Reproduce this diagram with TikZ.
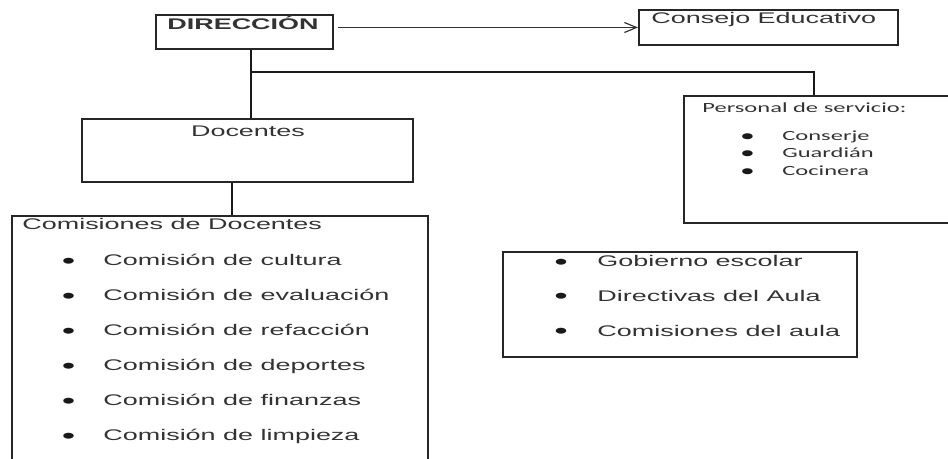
\documentclass[tikz,border=0pt]{standalone}
\usepackage{fontspec}
\setmainfont{Liberation Sans}[FakeStretch=1.75]
\newfontfamily\servfont{Carlito}[FakeStretch=1.75]
\usepackage{tikz}
\usetikzlibrary{arrows.meta,positioning,calc}

\begin{document}
\begin{tikzpicture}[x=0.5pt, y=-0.5pt,
    box/.style={rectangle, draw=black!85, line width=1pt, inner sep=0pt},
    txt/.style={anchor=base west, inner sep=0pt, text=black!80, font=\fontsize{7.7}{9}\selectfont},
    head/.style={txt, font=\fontsize{7.7}{9}\selectfont\bfseries},
    serv/.style={anchor=base west, inner sep=0pt, text=black!80, font=\servfont\fontsize{7}{8.5}\selectfont},
    bul/.style={anchor=base, inner sep=0pt, text=black!90, font=\fontsize{11}{11}\selectfont},
    servbul/.style={anchor=base, inner sep=0pt, text=black!90, font=\servfont\fontsize{8.5}{9}\selectfont},
    line/.style={draw=black!90, line width=0.85pt},
    arrow/.style={-{Straight Barb[length=6pt,width=5pt]}, line width=0.6pt, draw=black!80}]

    \clip (0,0) rectangle (948,459);

    % Boxes
    \node[box, minimum width=88.5pt, minimum height=17pt] (dir) at (244.5,32) {};
    \node[box, minimum width=129.5pt, minimum height=17.5pt] (consejo) at (768.5,27.5) {};
    \node[box, minimum width=165.5pt, minimum height=31.5pt] (docentes) at (247.5,150.5) {};
    \node[box, minimum width=138pt, minimum height=63.5pt] (personal) at (822,159.5) {};
    \node[box, minimum width=208pt, minimum height=127pt] (comisiones) at (220,343) {};
    \node[box, minimum width=177pt, minimum height=52.5pt] (gobierno) at (680,304.5) {};

    % Texts
    \node[head] (dirtxt) at (167,29.5) {DIRECCIÓN};
    \node[txt] (consejotxt) at (651,23.5) {Consejo Educativo};
    \node[txt, anchor=base] (doctxt) at (248,137) {Docentes};
    \node[txt] (comtxt) at (22,230) {Comisiones de Docentes};
    \node[serv] (servtxt) at (702,113) {Personal de servicio:};

    % Lists
    \foreach \comname [count=\i] in {cultura, evaluación, refacción, deportes, finanzas, limpieza} {
        \node[bul] (combul\i) at (68.5,233.5+35*\i) {•};
        \node[txt] (com\i) at (103,231+35*\i) {Comisión de \comname};
    }
    \foreach \gobname [count=\i] in {Gobierno escolar, Directivas del Aula, Comisiones del aula} {
        \node[bul] (gobbul\i) at (561,234.5+34.7*\i) {•};
        \node[txt] (gob\i) at (597,232+34.7*\i) {\gobname};
    }
    \foreach \servname [count=\i] in {Conserje, Guardián, Cocinera} {
        \node[servbul] (servbul\i) at (747.5,123.5+17.6*\i) {•};
        \node[serv] (serv\i) at (782,122.5+17.6*\i) {\servname};
    }

    % Connectors
    \coordinate (split) at (251,72);
    \coordinate (tap) at (814,72);
    \coordinate (cdrop) at (232,200);
    \draw[arrow] ([xshift=2pt]dir.east |- consejo.west) -- (consejo.west);
    \draw[line] (dir.south -| split) -- (docentes.north -| split);
    \draw[line] (split) -- (tap) -- (tap |- personal.north);
    \draw[line] (docentes.south -| cdrop) -- (comisiones.north -| cdrop);

\end{tikzpicture}
\end{document}
